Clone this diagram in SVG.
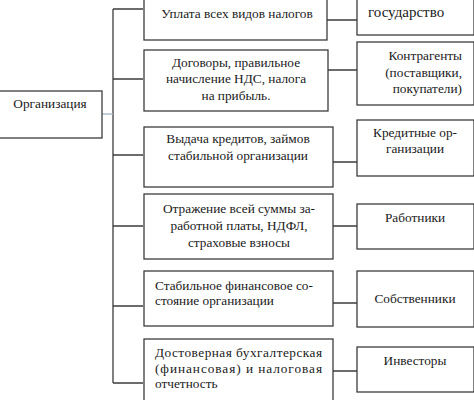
<svg xmlns="http://www.w3.org/2000/svg" width="474" height="400" viewBox="0 0 474 400">
<style>
.b{fill:#fff;stroke:#3c3c3c;stroke-width:1.3}
.t{font-family:"Liberation Serif","Times New Roman",serif;font-size:13.3px;fill:#1a1a1a}
.c{text-anchor:middle}
.r{text-anchor:end}
.l{fill:none;stroke:#3c3c3c;stroke-width:1.3}
</style>
<rect width="474" height="400" fill="#fff"/>
<g id="connectors">
<path class="l" d="M113 9V383M113 9H143M113 79H143M113 155H143M113 226H143M113 306H143M113 383H143"/>
<path d="M102 114H113" fill="none" stroke="#9fb3c8" stroke-width="1.3"/>
<path class="l" d="M327 20H357M328 70H357M333 162H357M333 226H357M333 303H357M333 371H357"/>
</g>
<g id="org"><rect class="b" x="-1" y="91" width="103" height="47"/><text class="t c" x="50" y="108">Организация</text></g>
<g id="m1"><rect class="b" x="144" y="-2" width="183" height="42"/><text class="t c" x="237" y="18">Уплата всех видов налогов</text></g>
<g id="m2"><rect class="b" x="144" y="50" width="184" height="61"/><text class="t c" x="236" y="67">Договоры, правильное</text><text class="t c" x="236" y="83">начисление НДС, налога</text><text class="t c" x="236" y="100">на прибыль.</text></g>
<g id="m3"><rect class="b" x="144" y="127" width="189" height="60"/><text class="t c" x="238" y="143">Выдача кредитов, займов</text><text class="t c" x="238" y="160">стабильной организации</text></g>
<g id="m4"><rect class="b" x="144" y="194" width="189" height="65"/><text class="t c" x="239" y="213">Отражение всей суммы за-</text><text class="t c" x="239" y="230">работной платы, НДФЛ,</text><text class="t c" x="239" y="247">страховые взносы</text></g>
<g id="m5"><rect class="b" x="144" y="271" width="189" height="55"/><text class="t" x="155" y="290">Стабильное финансовое со-</text><text class="t" x="155" y="305">стояние организации</text></g>
<g id="m6"><rect class="b" x="144" y="339" width="189" height="65"/><text class="t" x="155" y="357" textLength="167" lengthAdjust="spacing">Достоверная бухгалтерская</text><text class="t" x="155" y="373" textLength="167" lengthAdjust="spacing">(финансовая) и налоговая</text><text class="t" x="155" y="388">отчетность</text></g>
<g id="r1"><rect class="b" x="357" y="-2" width="117" height="37"/><text class="t" x="368" y="17" style="font-size:15px">государство</text></g>
<g id="r2"><rect class="b" x="357" y="42" width="117" height="63"/><text class="t r" x="462" y="60">Контрагенты</text><text class="t r" x="462" y="77">(поставщики,</text><text class="t r" x="462" y="93">покупатели)</text></g>
<g id="r3"><rect class="b" x="357" y="120" width="117" height="56"/><text class="t c" x="415" y="137">Кредитные ор-</text><text class="t c" x="415" y="153">ганизации</text></g>
<g id="r4"><rect class="b" x="357" y="204" width="117" height="45"/><text class="t c" x="415" y="222">Работники</text></g>
<g id="r5"><rect class="b" x="357" y="271" width="117" height="56"/><text class="t c" x="415" y="303">Собственники</text></g>
<g id="r6"><rect class="b" x="357" y="347" width="117" height="45"/><text class="t c" x="415" y="365">Инвесторы</text></g>
</svg>
